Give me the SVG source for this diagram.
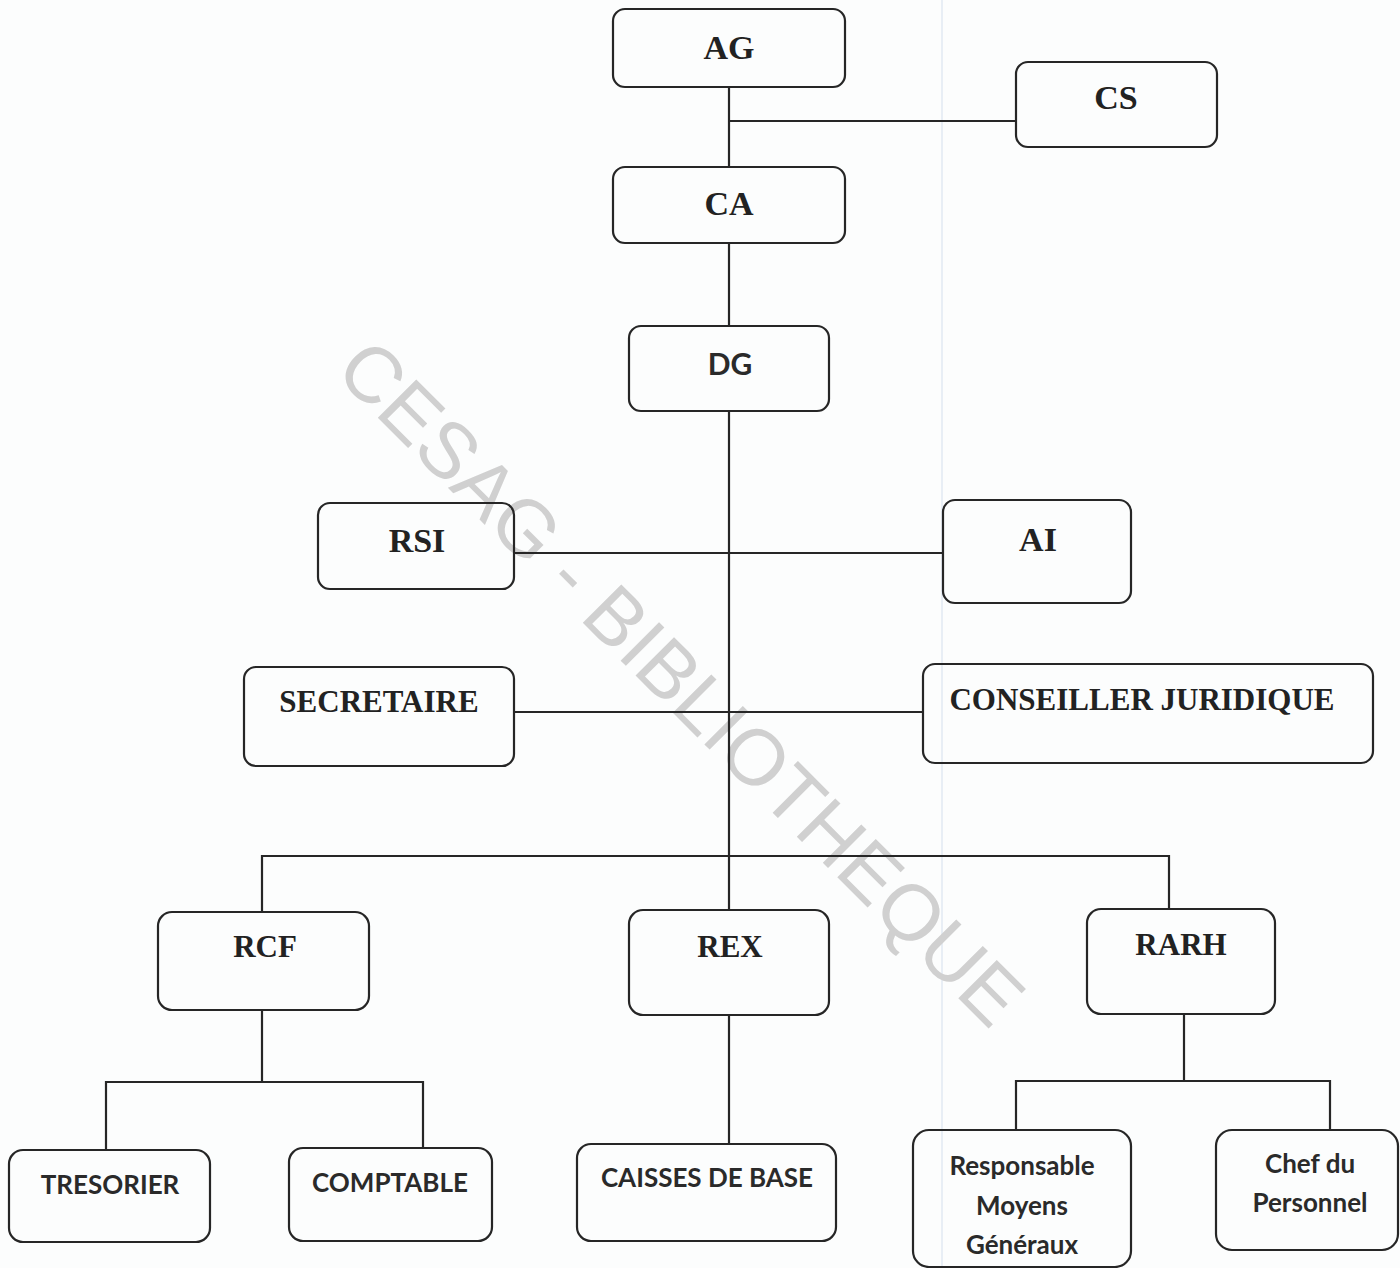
<svg xmlns="http://www.w3.org/2000/svg" width="1400" height="1268" viewBox="0 0 1400 1268">
<style>
.bg{fill:#fcfdfd}
.box{fill:none;stroke:#262626;stroke-width:2.2}
.ln{fill:none;stroke:#262626;stroke-width:2.2}
.s{font-family:"Liberation Serif","Times New Roman",serif;font-weight:bold;fill:#222;text-anchor:middle}
.s34{font-size:34px}
.s31{font-size:31px}
.c{font-family:Lato,"Open Sans","Liberation Sans",sans-serif;font-weight:bold;fill:#2a2a2a;text-anchor:middle;font-size:26px}
.wm{font-family:"Liberation Sans",Arial,sans-serif;font-size:79px;fill:#d0d0d0;text-anchor:middle}
</style>
<rect class="bg" x="0" y="0" width="1400" height="1268"/>
<line x1="942" y1="0" x2="942" y2="1268" stroke="#e8eef5" stroke-width="2"/>
<text class="wm" transform="translate(662,702) rotate(45)">CESAG - BIBLIOTHEQUE</text>
<g id="connectors">
<path class="ln" d="M729 87V167M729 121H1016M729 243V326M729 411V910M514 553H943M514 712H923M262 912V856H1169V909"/>
<path class="ln" d="M262 1010V1082M106 1150V1082H423V1147M729 1015V1144M1184 1014V1081M1016 1130V1081H1330V1130"/>
</g>
<g id="AG"><rect class="box" x="613" y="9" width="232" height="78" rx="12"/><text class="s s34" x="729" y="59">AG</text></g>
<g id="CS"><rect class="box" x="1016" y="62" width="201" height="85" rx="12"/><text class="s s34" x="1116" y="109">CS</text></g>
<g id="CA"><rect class="box" x="613" y="167" width="232" height="76" rx="12"/><text class="s s34" x="729" y="215">CA</text></g>
<g id="DG"><rect class="box" x="629" y="326" width="200" height="85" rx="12"/><text class="c" style="font-size:30px" x="730" y="375">DG</text></g>
<g id="RSI"><rect class="box" x="318" y="503" width="196" height="86" rx="12"/><text class="s s34" x="417" y="552">RSI</text></g>
<g id="AI"><rect class="box" x="943" y="500" width="188" height="103" rx="12"/><text class="s s34" x="1038" y="551">AI</text></g>
<g id="SECRETAIRE"><rect class="box" x="244" y="667" width="270" height="99" rx="12"/><text class="s s31" x="379" y="712">SECRETAIRE</text></g>
<g id="CONSEILLER"><rect class="box" x="923" y="664" width="450" height="99" rx="12"/><text class="s s31" x="1142" y="710">CONSEILLER JURIDIQUE</text></g>
<g id="RCF"><rect class="box" x="158" y="912" width="211" height="98" rx="14"/><text class="s s31" x="265" y="957">RCF</text></g>
<g id="REX"><rect class="box" x="629" y="910" width="200" height="105" rx="14"/><text class="s s31" x="730" y="957">REX</text></g>
<g id="RARH"><rect class="box" x="1087" y="909" width="188" height="105" rx="14"/><text class="s s31" x="1181" y="955">RARH</text></g>
<g id="TRESORIER"><rect class="box" x="9" y="1150" width="201" height="92" rx="14"/><text class="c" x="110" y="1194">TRESORIER</text></g>
<g id="COMPTABLE"><rect class="box" x="289" y="1148" width="203" height="93" rx="14"/><text class="c" x="390" y="1192">COMPTABLE</text></g>
<g id="CAISSES"><rect class="box" x="577" y="1144" width="259" height="97" rx="14"/><text class="c" x="707" y="1187">CAISSES DE BASE</text></g>
<g id="RMG"><rect class="box" x="913" y="1130" width="218" height="137" rx="16"/><text class="c" x="1022" y="1175">Responsable</text><text class="c" x="1022" y="1215">Moyens</text><text class="c" x="1022" y="1254">Généraux</text></g>
<g id="CDP"><rect class="box" x="1216" y="1130" width="182" height="120" rx="16"/><text class="c" x="1310" y="1173">Chef du</text><text class="c" x="1310" y="1212">Personnel</text></g>
</svg>
